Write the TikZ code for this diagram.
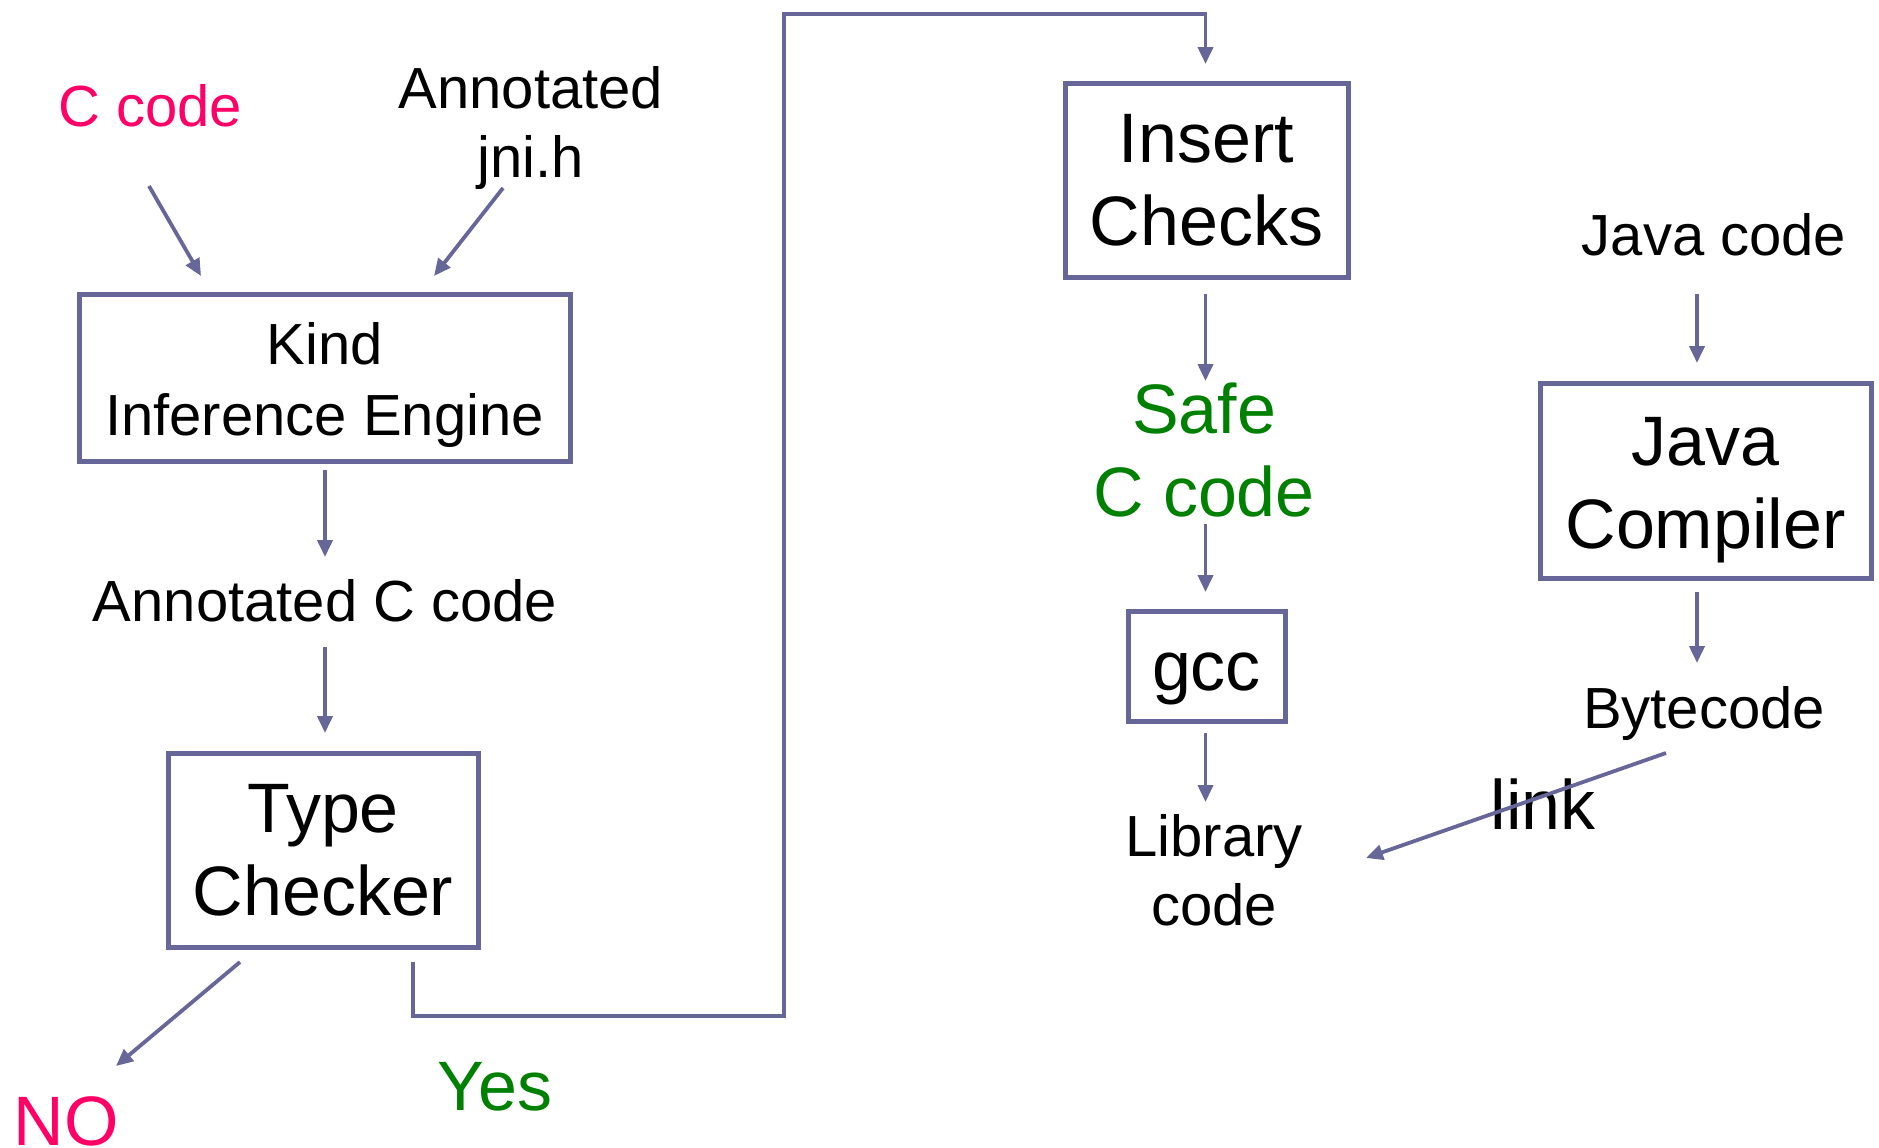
\documentclass[tikz,border=0pt]{standalone}
\usepackage{fontspec}
\setmainfont{Liberation Sans}
\usetikzlibrary{arrows.meta}
\definecolor{linec}{HTML}{666699}
\definecolor{redc}{HTML}{FF0066}
\definecolor{greenc}{HTML}{008000}
\tikzset{
  small/.style={font=\fontsize{29}{35.5}\selectfont, align=center, inner sep=0pt},
  big/.style={font=\fontsize{35}{41.5}\selectfont, align=center, inner sep=0pt},
  box/.style={draw=linec, line width=2.5pt, big, inner sep=0pt},
  arr/.style={draw=linec, line width=1.9pt, -{Triangle[length=8.5pt,width=7.5pt]}},
}
\begin{document}
\begin{tikzpicture}[x=0.5pt,y=-0.5pt]
\useasboundingbox (0,0) rectangle (1879,1147);
% text nodes (anchor base at baseline)
\node[small, text=redc, anchor=base] (ccode) at (150,126.6) {C code};
\node[small, anchor=base] (ann1) at (531,108.6) {Annotated};
\node[small, anchor=base] (jni) at (531,177.6) {jni.h};
\node[small, anchor=base] (acc) at (325,621.6) {Annotated C code};
\node[big, text=redc, anchor=base] (no) at (66,1145) {NO};
\node[big, text=greenc, anchor=base] (yes) at (495,1110.6) {Yes};
\node[big, text=greenc, anchor=base] (safe1) at (1204,433.8) {Safe};
\node[big, text=greenc, anchor=base] (safe2) at (1204,516.6) {C code};
\node[small, anchor=base] (lib1) at (1214,856) {Library};
\node[small, anchor=base] (lib2) at (1214,925.6) {code};
\node[small, anchor=base] (jcode) at (1714,255.6) {Java code};
\node[small, anchor=base] (byte) at (1704,728) {Bytecode};
\node[big, anchor=base] (link) at (1543,829.6) {link};
% boxes
\node[box, small, minimum width=245.5pt, minimum height=83.5pt] (kind) at (324.5,377.5) {\rule{0pt}{28.3pt}Kind\\Inference Engine};
\node[box, minimum width=155pt, minimum height=97pt] (type) at (323,850) {Type\\Checker};
\node[box, minimum width=141.5pt, minimum height=97pt] (insert) at (1206.5,180) {Insert\\Checks};
\node[box, minimum width=78.5pt, minimum height=55pt, text height=24pt, text depth=0pt] (gcc) at (1206.5,666) {gcc};
\node[box, minimum width=165.5pt, minimum height=97.5pt] (java) at (1705.5,480.5) {\rule{0pt}{33.4pt}Java\\Compiler};
% connector end points
\coordinate (c1s) at (149,186);  \coordinate (c1e) at (201,276);
\coordinate (c2s) at (503,188);  \coordinate (c2e) at (434,276);
\coordinate (c3s) at (325,470);  \coordinate (c3e) at (325,557);
\coordinate (c4s) at (325,647);  \coordinate (c4e) at (325,733);
\coordinate (c5s) at (240,962);  \coordinate (c5e) at (116,1066);
\coordinate (y0) at (413,962);   \coordinate (y1) at (413,1016);
\coordinate (y2) at (784,1016);  \coordinate (y3) at (784,14);
\coordinate (y4) at (1205.5,14); \coordinate (y5) at (1205.5,64);
\coordinate (c6s) at (1205.5,294); \coordinate (c6e) at (1205.5,381);
\coordinate (c7s) at (1205.5,524); \coordinate (c7e) at (1205.5,592);
\coordinate (c8s) at (1205.5,733); \coordinate (c8e) at (1205.5,802);
\coordinate (c9s) at (1697,294);  \coordinate (c9e) at (1697,363);
\coordinate (c10s) at (1697,592); \coordinate (c10e) at (1697,663);
\coordinate (c11s) at (1666,753); \coordinate (c11e) at (1366,858);
% connectors
\draw[arr] (c1s) -- (c1e);
\draw[arr] (c2s) -- (c2e);
\draw[arr] (c3s) -- (c3e);
\draw[arr] (c4s) -- (c4e);
\draw[arr] (c5s) -- (c5e);
\draw[arr] (y0) -- (y1) -- (y2) -- (y3) -- (y4) -- (y5);
\draw[arr] (c6s) -- (c6e);
\draw[arr] (c7s) -- (c7e);
\draw[arr] (c8s) -- (c8e);
\draw[arr] (c9s) -- (c9e);
\draw[arr] (c10s) -- (c10e);
\draw[arr] (c11s) -- (c11e);
\end{tikzpicture}
\end{document}
